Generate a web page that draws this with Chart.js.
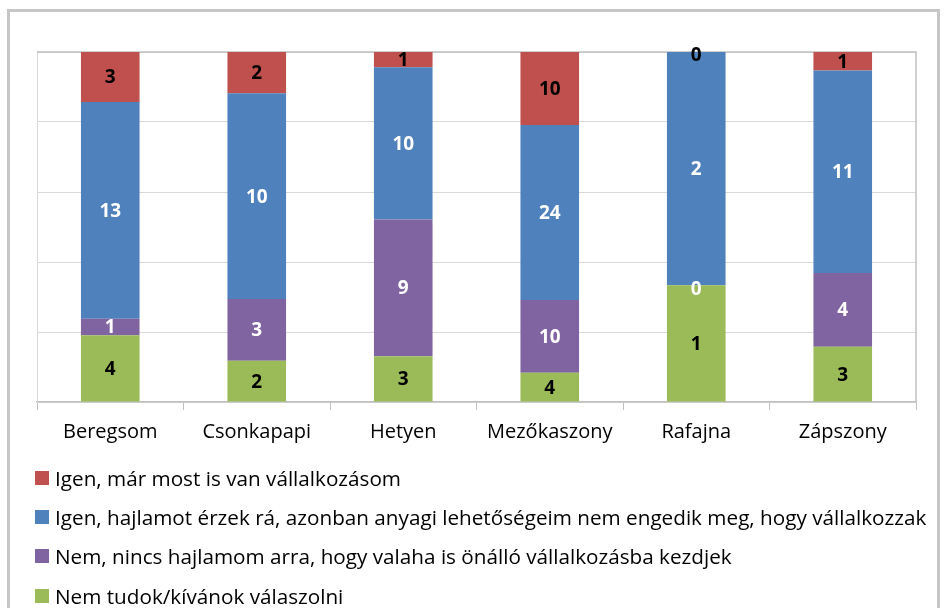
<!DOCTYPE html>
<html>
<head>
<meta charset="utf-8">
<script src="https://cdn.jsdelivr.net/npm/chart.js@4.4.1/dist/chart.umd.min.js"></script>
<style>
  body { margin: 0; width: 946px; height: 608px; overflow: hidden; background: #fff; font-family: "Open Sans", sans-serif; }
  #frame { position: absolute; left: 7px; top: 9px; width: 933px; height: 640px; border: 3px solid #c6c6c6; box-sizing: border-box; }
  #wrap { position: absolute; left: 0; top: 0; width: 946px; height: 460px; }
  #legend { position: absolute; left: 35px; top: 458px; }
  .row { height: 39.3px; display: flex; align-items: center; font-size: 20.7px; color: #000; white-space: nowrap; }
  .box { width: 14px; height: 14px; margin-right: 6px; flex: none; }
</style>
</head>
<body>
<div id="frame"></div>
<div id="wrap"><canvas id="myChart"></canvas></div>
<div id="legend"></div>
<script>
const categories = ["Beregsom", "Csonkapapi", "Hetyen", "Mezőkaszony", "Rafajna", "Zápszony"];
// darabszámok, alulról felfelé
const nemTudok = [4, 2, 3, 4, 1, 3];
const nemHajlam = [1, 3, 9, 10, 0, 4];
const igenHajlam = [13, 10, 10, 24, 2, 11];
const igenMar = [3, 2, 1, 10, 0, 1];
const seriesNames = [
  "Nem tudok/kívánok válaszolni",
  "Nem, nincs hajlamom arra, hogy valaha is önálló vállalkozásba kezdjek",
  "Igen, hajlamot érzek rá, azonban anyagi lehetőségeim nem engedik meg, hogy vállalkozzak",
  "Igen, már most is van vállalkozásom"
];
const colors = ["#9BBB59", "#8064A2", "#4F81BD", "#C0504D"];
const labelColors = ["#000", "#fff", "#fff", "#000"];

const counts = [nemTudok, nemHajlam, igenHajlam, igenMar];
const totals = categories.map((c, i) => counts.reduce((s, arr) => s + arr[i], 0));

const datasets = counts.map((arr, k) => ({
  label: seriesNames[k],
  data: arr.map((v, i) => (v / totals[i]) * 100),
  counts: arr,
  backgroundColor: colors[k],
  borderWidth: 0,
  barPercentage: 0.4,
  categoryPercentage: 1
}));

const barLabels = {
  id: "barLabels",
  afterDatasetsDraw(chart) {
    const ctx = chart.ctx;
    ctx.save();
    ctx.font = "bold 19px 'Open Sans', sans-serif";
    ctx.textAlign = "center";
    ctx.textBaseline = "middle";
    chart.data.datasets.forEach((ds, k) => {
      chart.getDatasetMeta(k).data.forEach((el, i) => {
        ctx.fillStyle = labelColors[k];
        let y = (el.y + el.base) / 2 + 1;
        if (ds.counts[i] === 0) y += 3;
        ctx.fillText(String(ds.counts[i]), el.x, y);
      });
    });
    ctx.restore();
  }
};

const plotBorder = {
  id: "plotBorder",
  beforeDatasetsDraw(chart) {
    const a = chart.chartArea;
    const ctx = chart.ctx;
    ctx.save();
    ctx.strokeStyle = "#c0c0c0";
    ctx.lineWidth = 1.5;
    ctx.beginPath();
    ctx.moveTo(a.left, a.top);
    ctx.lineTo(a.right, a.top);
    ctx.lineTo(a.right, a.bottom);
    ctx.stroke();
    ctx.restore();
  }
};

new Chart(document.getElementById("myChart").getContext("2d"), {
  type: "bar",
  data: { labels: categories, datasets: datasets },
  plugins: [barLabels, plotBorder],
  options: {
    responsive: true,
    maintainAspectRatio: false,
    animation: false,
    layout: { padding: { left: 37, right: 30, top: 52, bottom: 6 } },
    scales: {
      x: {
        stacked: true,
        grid: { drawOnChartArea: false, drawTicks: true, tickLength: 8, color: "#c0c0c0", offset: true },
        border: { color: "#c0c0c0", width: 1.5 },
        ticks: { color: "#000", font: { family: "'Open Sans', sans-serif", size: 20 }, padding: 10 }
      },
      y: {
        stacked: true,
        min: 0,
        max: 100,
        ticks: { display: false, stepSize: 20 },
        grid: { color: "#d9d9d9", drawTicks: false },
        border: { color: "#d9d9d9" }
      }
    },
    plugins: { legend: { display: false }, tooltip: { enabled: false } }
  }
});

// jelmagyarázat, fordított sorrendben
const legend = document.getElementById("legend");
for (let k = seriesNames.length - 1; k >= 0; k--) {
  const row = document.createElement("div");
  row.className = "row";
  row.innerHTML = '<span class="box" style="background:' + colors[k] + '"></span>' + seriesNames[k];
  legend.appendChild(row);
}
</script>
</body>
</html>
